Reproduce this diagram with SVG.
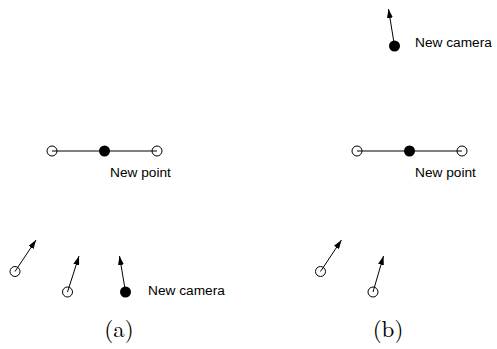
<svg xmlns="http://www.w3.org/2000/svg" width="497" height="349" viewBox="0 0 497 349">
<style>
.bg{fill:#fff}
.ln{stroke:#000;stroke-width:1;fill:none}
.arr{stroke:#000;stroke-width:1;fill:none;marker-end:url(#ah)}
.open{fill:none;stroke:#000;stroke-width:1}
.full{fill:#000;stroke:none}
.lbl{font-family:"Liberation Sans",Arial,sans-serif;font-size:13.7px;fill:#000}
.cap{font-family:"Latin Modern Roman","DejaVu Serif","Liberation Serif",serif;font-size:23px;fill:#000}
</style>
<defs>
<marker id="ah" markerUnits="userSpaceOnUse" markerWidth="9" markerHeight="6" refX="9" refY="3" orient="auto" viewBox="0 0 9 6">
<path d="M0,0 L9,3 L0,6 z" fill="#000"/>
</marker>
</defs>
<rect class="bg" x="0" y="0" width="497" height="349"/>
<g id="connectors">
<line class="ln" x1="52" y1="151" x2="157" y2="151"/>
<line class="arr" x1="15" y1="271.5" x2="36" y2="240"/>
<line class="arr" x1="67.5" y1="292" x2="79" y2="256"/>
<line class="arr" x1="125.5" y1="292" x2="119.5" y2="256"/>
<line class="ln" x1="357" y1="151" x2="462" y2="151"/>
<line class="arr" x1="320.5" y1="271.5" x2="341.5" y2="240"/>
<line class="arr" x1="373" y1="292" x2="383.5" y2="256"/>
<line class="arr" x1="394.5" y1="46" x2="388.5" y2="9"/>
</g>
<g id="a-point-left"><circle class="open" cx="52" cy="151" r="5"/></g>
<g id="a-point-new"><circle class="full" cx="104.5" cy="151" r="5.5"/><text class="lbl" x="110" y="177">New point</text></g>
<g id="a-point-right"><circle class="open" cx="157" cy="151" r="5"/></g>
<g id="a-cam1"><circle class="open" cx="15" cy="271.5" r="5"/></g>
<g id="a-cam2"><circle class="open" cx="67.5" cy="292" r="5"/></g>
<g id="a-cam-new"><circle class="full" cx="125.5" cy="292" r="5.5"/><text class="lbl" x="148" y="295">New camera</text></g>
<g id="b-point-left"><circle class="open" cx="357" cy="151" r="5"/></g>
<g id="b-point-new"><circle class="full" cx="409.5" cy="151" r="5.5"/><text class="lbl" x="415" y="177">New point</text></g>
<g id="b-point-right"><circle class="open" cx="462" cy="151" r="5"/></g>
<g id="b-cam1"><circle class="open" cx="320.5" cy="271.5" r="5"/></g>
<g id="b-cam2"><circle class="open" cx="373" cy="292" r="5"/></g>
<g id="b-cam-new"><circle class="full" cx="394.5" cy="46" r="5.5"/><text class="lbl" x="415" y="47">New camera</text></g>
<text class="cap" x="119" y="337" text-anchor="middle">(a)</text>
<text class="cap" x="388" y="337" text-anchor="middle">(b)</text>
</svg>
